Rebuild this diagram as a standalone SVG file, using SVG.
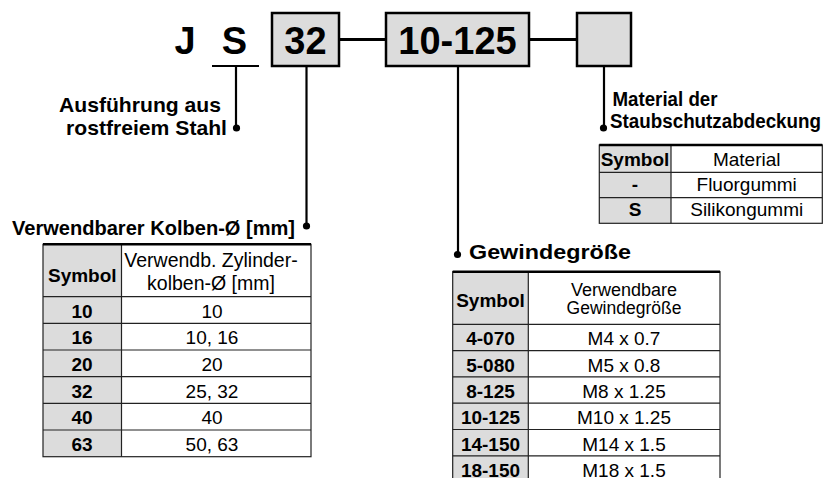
<svg xmlns="http://www.w3.org/2000/svg" width="840" height="478" viewBox="0 0 840 478">
<defs>
<style>
text{font-family:"Liberation Sans",Arial,Helvetica,sans-serif;fill:#000}
.code{font-size:38px;font-weight:bold;text-anchor:middle}
.box{fill:#dcdcdc;stroke:#000;stroke-width:2.5}
.conn{stroke:#000;stroke-width:2.2;fill:none}
.link{stroke:#000;stroke-width:3;fill:none}
.dot{fill:#000}
.lbl{font-size:21px;font-weight:bold}
.lbl2{font-size:19.5px;font-weight:bold}
.th{font-size:19px;font-weight:bold;text-anchor:middle}
.td{font-size:19px;text-anchor:middle}
.hd{font-size:18px;text-anchor:middle}
.sym{fill:#dcdcdc}
.grid{stroke:#222;stroke-width:1.2;fill:none}
.top{stroke:#000;stroke-width:2.4}
</style>
</defs>
<rect x="0" y="0" width="840" height="478" fill="#fff"/>

<g id="code-J"><text class="code" x="185" y="54">J</text></g>
<g id="code-S"><text class="code" x="234.5" y="54">S</text></g>
<g id="box-32"><rect class="box" x="272" y="13" width="67" height="53"/><text class="code" x="305.5" y="54">32</text></g>
<g id="box-10-125"><rect class="box" x="386" y="13" width="143" height="53"/><text class="code" x="457.5" y="54">10-125</text></g>
<g id="box-empty"><rect class="box" x="577" y="13" width="54" height="53"/></g>

<g id="connectors">
<line class="link" x1="339" y1="39.5" x2="386" y2="39.5"/>
<line class="link" x1="529" y1="39.5" x2="577" y2="39.5"/>
<line class="conn" x1="212" y1="66" x2="259" y2="66"/>
<line class="conn" x1="236" y1="66" x2="236" y2="128"/>
<circle class="dot" cx="236.5" cy="128" r="3.6"/>
<line class="conn" x1="306.5" y1="67" x2="306.5" y2="226"/>
<circle class="dot" cx="306.5" cy="226" r="3.6"/>
<line class="conn" x1="458" y1="67" x2="458" y2="254"/>
<circle class="dot" cx="457.5" cy="254.5" r="3.6"/>
<line class="conn" x1="604" y1="67" x2="604" y2="128"/>
<circle class="dot" cx="603.5" cy="128" r="3.6"/>
</g>

<g id="label-stahl">
<text class="lbl" x="221" y="112" text-anchor="end" textLength="162" lengthAdjust="spacingAndGlyphs">Ausführung aus</text>
<text class="lbl" x="227" y="135" text-anchor="end" textLength="161" lengthAdjust="spacingAndGlyphs">rostfreiem Stahl</text>
</g>
<g id="label-kolben">
<text class="lbl" x="12" y="235" textLength="283" lengthAdjust="spacingAndGlyphs">Verwendbarer Kolben-Ø [mm]</text>
</g>
<g id="label-material">
<text class="lbl2" x="612.5" y="106" textLength="105" lengthAdjust="spacingAndGlyphs">Material der</text>
<text class="lbl2" x="610" y="128" textLength="211" lengthAdjust="spacingAndGlyphs">Staubschutzabdeckung</text>
</g>
<g id="label-gewinde">
<text class="lbl" x="469" y="259" textLength="162" lengthAdjust="spacingAndGlyphs">Gewindegröße</text>
</g>

<g id="table-material">
<rect class="sym" x="599.3" y="145" width="71.7" height="78.3"/>
<rect class="grid" x="599.3" y="145" width="223" height="78.3"/>
<line class="grid" x1="671" y1="145" x2="671" y2="223.3"/>
<line class="grid" x1="599.3" y1="172.3" x2="822.3" y2="172.3"/>
<line class="grid" x1="599.3" y1="197.7" x2="822.3" y2="197.7"/>
<line class="top" x1="599.3" y1="145" x2="822.3" y2="145"/>
<text class="th" x="635" y="166">Symbol</text>
<text class="td" x="746.7" y="166">Material</text>
<text class="th" x="635" y="191">-</text>
<text class="td" x="746.7" y="191">Fluorgummi</text>
<text class="th" x="635" y="215.5">S</text>
<text class="td" x="746.7" y="215.5">Silikongummi</text>
</g>

<g id="table-kolben">
<rect class="sym" x="43" y="244.3" width="78.5" height="212.4"/>
<rect class="grid" x="43" y="244.3" width="268" height="212.4"/>
<line class="grid" x1="121.5" y1="244.3" x2="121.5" y2="456.7"/>
<line class="grid" x1="43" y1="296.7" x2="311" y2="296.7"/>
<line class="grid" x1="43" y1="323.3" x2="311" y2="323.3"/>
<line class="grid" x1="43" y1="350" x2="311" y2="350"/>
<line class="grid" x1="43" y1="376.7" x2="311" y2="376.7"/>
<line class="grid" x1="43" y1="403.3" x2="311" y2="403.3"/>
<line class="grid" x1="43" y1="430" x2="311" y2="430"/>
<line class="top" x1="43" y1="244.3" x2="311" y2="244.3"/>
<text class="th" x="82.3" y="282">Symbol</text>
<text class="td" x="211" y="267" style="font-size:19.5px">Verwendb. Zylinder-</text>
<text class="td" x="211" y="290" style="font-size:19.5px">kolben-Ø [mm]</text>
<text class="th" x="82" y="317.7">10</text><text class="td" x="212" y="317.7">10</text>
<text class="th" x="82" y="344.3">16</text><text class="td" x="212" y="344.3">10, 16</text>
<text class="th" x="82" y="371">20</text><text class="td" x="212" y="371">20</text>
<text class="th" x="82" y="397.7">32</text><text class="td" x="212" y="397.7">25, 32</text>
<text class="th" x="82" y="424.3">40</text><text class="td" x="212" y="424.3">40</text>
<text class="th" x="82" y="451">63</text><text class="td" x="212" y="451">50, 63</text>
</g>

<g id="table-gewinde">
<rect class="sym" x="452.7" y="271.7" width="75.6" height="210"/>
<rect class="grid" x="452.7" y="271.7" width="267.3" height="210"/>
<line class="grid" x1="528.3" y1="271.7" x2="528.3" y2="481"/>
<line class="grid" x1="452.7" y1="324.3" x2="720" y2="324.3"/>
<line class="grid" x1="452.7" y1="350.6" x2="720" y2="350.6"/>
<line class="grid" x1="452.7" y1="376.9" x2="720" y2="376.9"/>
<line class="grid" x1="452.7" y1="403.2" x2="720" y2="403.2"/>
<line class="grid" x1="452.7" y1="429.5" x2="720" y2="429.5"/>
<line class="grid" x1="452.7" y1="455.8" x2="720" y2="455.8"/>
<line class="top" x1="452.7" y1="271.7" x2="720" y2="271.7"/>
<text class="th" x="490.5" y="306.5">Symbol</text>
<text class="hd" x="624" y="295.7">Verwendbare</text>
<text class="hd" x="624" y="314" style="font-size:17.5px">Gewindegröße</text>
<text class="th" x="490.5" y="345.3">4-070</text><text class="td" x="624" y="345.3">M4 x 0.7</text>
<text class="th" x="490.5" y="371.6">5-080</text><text class="td" x="624" y="371.6">M5 x 0.8</text>
<text class="th" x="490.5" y="397.9">8-125</text><text class="td" x="624" y="397.9">M8 x 1.25</text>
<text class="th" x="490.5" y="424.2">10-125</text><text class="td" x="624" y="424.2">M10 x 1.25</text>
<text class="th" x="490.5" y="450.5">14-150</text><text class="td" x="624" y="450.5">M14 x 1.5</text>
<text class="th" x="490.5" y="477">18-150</text><text class="td" x="624" y="477">M18 x 1.5</text>
</g>
</svg>
